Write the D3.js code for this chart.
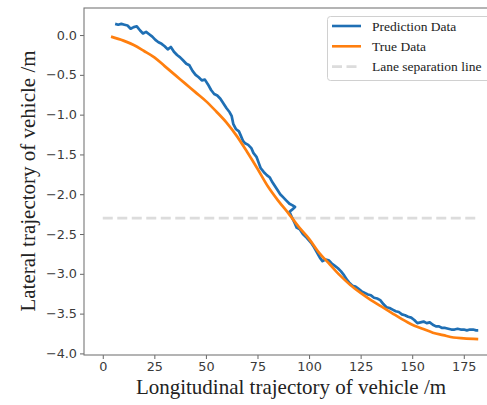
<!DOCTYPE html>
<html>
<head>
<meta charset="utf-8">
<script src="https://cdn.jsdelivr.net/npm/d3@7"></script>
<style>
  html, body { margin: 0; padding: 0; background: #fff; }
  svg { display: block; }
</style>
</head>
<body>
<svg id="chart" width="487" height="405"></svg>
<script>
// Longitudinal position (m) of the true vehicle trajectory
const trueX = [4, 10, 15, 20, 25, 30, 35, 40, 45, 50, 55, 60, 65, 70, 75, 80, 85, 90, 95, 100,
  105, 110, 115, 120, 125, 130, 135, 140, 145, 150, 155, 160, 165, 170, 175, 182];
// Lateral position (m) of the true vehicle trajectory
const trueY = [-0.02, -0.07, -0.125, -0.20, -0.28, -0.39, -0.50, -0.61, -0.72, -0.83, -0.96, -1.10,
  -1.27, -1.47, -1.68, -1.90, -2.08, -2.24, -2.41, -2.56, -2.74, -2.88, -3.02, -3.14, -3.24, -3.33,
  -3.41, -3.49, -3.57, -3.64, -3.69, -3.74, -3.77, -3.80, -3.81, -3.82];

// Predicted trajectory (longitudinal, lateral)
const predX = [6.0, 7.5, 9.0, 10.5, 12.0, 13.5, 15.0, 16.5, 18.0, 19.5, 21.0, 22.5, 24.0, 25.5, 27.0,
  28.5, 30.0, 31.5, 33.0, 34.5, 36.0, 37.5, 39.0, 40.5, 42.0, 43.5, 45.0, 46.5, 48.0, 49.5, 51.0,
  52.5, 54.0, 55.5, 57.0, 58.5, 60.0, 61.5, 62.5, 63.3, 64.5, 66.0, 67.0, 68.0, 69.0, 70.5, 72.0,
  73.0, 74.5, 75.5, 76.5, 78.0, 79.5, 81.0, 82.0, 83.5, 85.0, 86.0, 87.5, 89.0, 90.5, 92.0, 93.2,
  91.5, 90.5, 91.5, 93.0, 94.0, 95.5, 97.0, 99.0, 101.0, 102.5, 104.0, 105.3, 106.5, 108.0, 109.5,
  111.0, 112.5, 114.0, 115.5, 117.0, 118.5, 119.5, 121.0, 122.5, 124.0, 125.5, 127.0, 128.5, 130.0,
  131.5, 133.0, 134.5, 136.0, 137.5, 139.0, 140.5, 142.0, 143.5, 145.0, 146.5, 148.0, 149.5, 151.0,
  152.5, 154.0, 155.5, 157.0, 158.5, 160.0, 161.5, 163.0, 164.5, 166.0, 167.5, 169.0, 170.5, 172.0,
  173.5, 175.0, 176.5, 178.0, 179.5, 181.0, 182.0];
const predY = [0.14, 0.13, 0.14, 0.13, 0.12, 0.08, 0.10, 0.11, 0.06, 0.02, 0.04, 0.01, -0.02, -0.06,
  -0.09, -0.11, -0.14, -0.18, -0.15, -0.21, -0.25, -0.28, -0.32, -0.36, -0.38, -0.45, -0.50, -0.53,
  -0.57, -0.56, -0.62, -0.69, -0.74, -0.76, -0.80, -0.86, -0.92, -0.97, -1.02, -1.12, -1.18, -1.21,
  -1.27, -1.33, -1.36, -1.38, -1.42, -1.48, -1.53, -1.60, -1.67, -1.72, -1.76, -1.79, -1.84, -1.90,
  -1.96, -2.00, -2.04, -2.08, -2.12, -2.14, -2.16, -2.20, -2.22, -2.28, -2.36, -2.42, -2.44, -2.50,
  -2.55, -2.61, -2.67, -2.74, -2.80, -2.84, -2.82, -2.83, -2.87, -2.90, -2.93, -2.97, -3.02, -3.08,
  -3.11, -3.15, -3.16, -3.19, -3.22, -3.24, -3.26, -3.27, -3.30, -3.31, -3.33, -3.38, -3.42, -3.43,
  -3.45, -3.47, -3.48, -3.51, -3.52, -3.54, -3.55, -3.58, -3.62, -3.61, -3.60, -3.62, -3.61, -3.64,
  -3.66, -3.66, -3.68, -3.68, -3.69, -3.70, -3.70, -3.69, -3.70, -3.70, -3.71, -3.70, -3.70, -3.71,
  -3.71];

// Lane separation line
const laneX = [0, 182];
const laneY = [-2.3, -2.3];

const xTicks = [0, 25, 50, 75, 100, 125, 150, 175];
const yTicks = [0.0, -0.5, -1.0, -1.5, -2.0, -2.5, -3.0, -3.5, -4.0];

const legendLabels = ["Prediction Data", "True Data", "Lane separation line"];
const colors = { pred: "#1f6fb4", truth: "#ff7f0e", lane: "#dcdcdc" };

const svg = d3.select("#chart");
const plot = { left: 84, top: 8, right: 497, bottom: 355 };

const x = d3.scaleLinear().domain([-9.1, 191.1]).range([plot.left, plot.right]);
const y = d3.scaleLinear().domain([-4.02, 0.34]).range([plot.bottom, plot.top]);

svg.append("defs").append("clipPath").attr("id", "plotclip")
  .append("rect")
  .attr("x", plot.left).attr("y", plot.top)
  .attr("width", plot.right - plot.left).attr("height", plot.bottom - plot.top);

const zip = (xs, ys) => xs.map((v, i) => [v, ys[i]]);
const line = d3.line().x(d => x(d[0])).y(d => y(d[1]));
const smoothLine = d3.line().x(d => x(d[0])).y(d => y(d[1])).curve(d3.curveMonotoneX);

const g = svg.append("g").attr("clip-path", "url(#plotclip)");

g.append("path")
  .attr("d", line(zip(laneX, laneY)))
  .attr("fill", "none")
  .attr("stroke", colors.lane)
  .attr("stroke-width", 2.6)
  .attr("stroke-dasharray", "10,4.5");

g.append("path")
  .attr("d", line(zip(predX, predY)))
  .attr("fill", "none")
  .attr("stroke", colors.pred)
  .attr("stroke-width", 2.7)
  .attr("stroke-linejoin", "round");

g.append("path")
  .attr("d", smoothLine(zip(trueX, trueY)))
  .attr("fill", "none")
  .attr("stroke", colors.truth)
  .attr("stroke-width", 2.7)
  .attr("stroke-linejoin", "round");

// Axes
const tickFont = "'DejaVu Sans', sans-serif";
const xAxis = svg.append("g")
  .attr("transform", `translate(0,${plot.bottom})`)
  .call(d3.axisBottom(x).tickValues(xTicks).tickSize(4).tickPadding(3).tickFormat(d3.format("d")));
const yAxis = svg.append("g")
  .attr("transform", `translate(${plot.left},0)`)
  .call(d3.axisLeft(y).tickValues(yTicks).tickSize(4).tickPadding(3).tickFormat(d3.format(".1f")));

[xAxis, yAxis].forEach(a => {
  a.select(".domain").remove();
  a.selectAll(".tick line").attr("stroke", "#666").attr("stroke-width", 1);
  a.selectAll(".tick text")
    .attr("fill", "#3a3a3a")
    .style("font-family", tickFont)
    .style("font-size", "12.8px");
});

// Spines
svg.append("rect")
  .attr("x", plot.left).attr("y", plot.top)
  .attr("width", plot.right - plot.left).attr("height", plot.bottom - plot.top)
  .attr("fill", "none").attr("stroke", "#777").attr("stroke-width", 1.1);

// Axis titles
const labelFont = "'Liberation Serif', 'Times New Roman', serif";
svg.append("text")
  .attr("x", 291).attr("y", 394)
  .attr("text-anchor", "middle")
  .attr("fill", "#222")
  .style("font-family", labelFont)
  .style("font-size", "21px")
  .text("Longitudinal trajectory of vehicle /m");

svg.append("text")
  .attr("transform", "translate(35,181) rotate(-90)")
  .attr("text-anchor", "middle")
  .attr("fill", "#222")
  .style("font-family", labelFont)
  .style("font-size", "21px")
  .text("Lateral trajectory of vehicle /m");

// Legend
const legend = svg.append("g");
legend.append("rect")
  .attr("x", 327.5).attr("y", 16.5)
  .attr("width", 170).attr("height", 64)
  .attr("rx", 3)
  .attr("fill", "#fff").attr("fill-opacity", 0.9)
  .attr("stroke", "#d0d0d0").attr("stroke-width", 1);

const legendStyles = [
  { color: colors.pred, dash: null },
  { color: colors.truth, dash: null },
  { color: colors.lane, dash: "10,4.5" }
];
legendLabels.forEach((lab, i) => {
  const cy = 26 + i * 20.3;
  legend.append("line")
    .attr("x1", 332).attr("x2", 361).attr("y1", cy).attr("y2", cy)
    .attr("stroke", legendStyles[i].color).attr("stroke-width", 2.6)
    .attr("stroke-dasharray", legendStyles[i].dash);
  legend.append("text")
    .attr("x", 372).attr("y", cy)
    .attr("dominant-baseline", "central")
    .attr("fill", "#222")
    .style("font-family", labelFont)
    .style("font-size", "13.5px")
    .text(lab);
});
</script>
</body>
</html>
